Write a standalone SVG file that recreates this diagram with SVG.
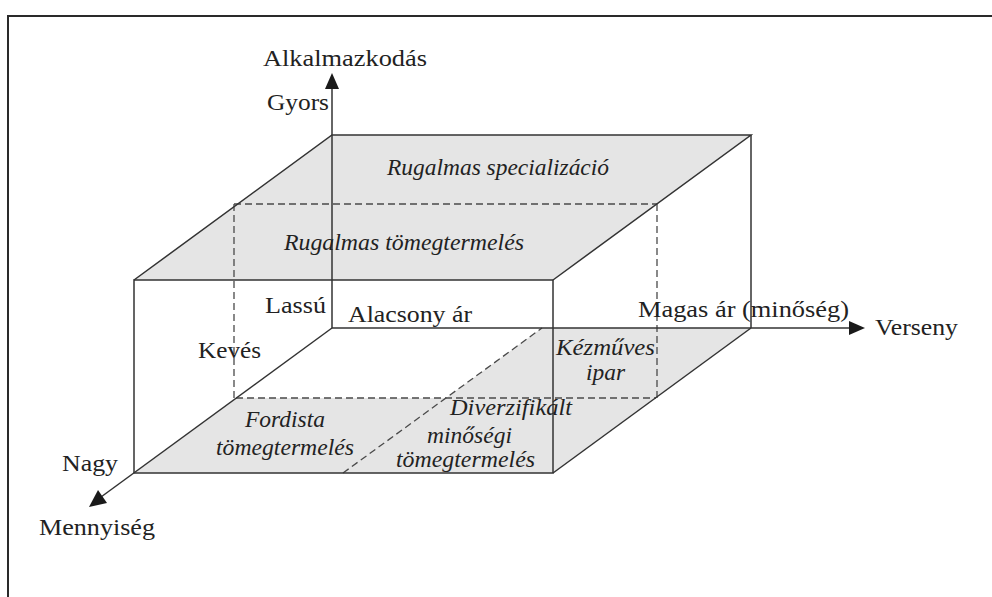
<svg xmlns="http://www.w3.org/2000/svg" width="992" height="597" viewBox="0 0 992 597">
  <style>
    .frame { fill: none; stroke: #2a2a2a; stroke-width: 2; }
    .face { fill: #e5e5e5; stroke: none; }
    .edge { fill: none; stroke: #333; stroke-width: 1.5; }
    .hidden { fill: none; stroke: #4a4a4a; stroke-width: 1.3; stroke-dasharray: 7 4; }
    .head { fill: #1a1a1a; stroke: none; }
    text { font-family: "Liberation Serif", "Times New Roman", serif; font-size: 24px; fill: #222; }
    .it { font-style: italic; }
  </style>

  <rect width="992" height="597" fill="#fff"/>

  <!-- outer frame (only left and top sides fall inside the canvas) -->
  <rect id="frame" class="frame" x="8" y="16" width="1000" height="600"/>

  <!-- shaded faces of the box -->
  <g id="faces">
    <polygon id="top-face" class="face" points="134,280 553,280 751,135 332,135"/>
    <polygon id="bottom-face" class="face" points="134,473 553,473 751,328 542,328 446,398 236,398"/>
  </g>

  <!-- hidden (dashed) subdivisions -->
  <g id="hidden-lines">
    <line class="hidden" x1="234" y1="204" x2="657" y2="204"/>
    <line class="hidden" x1="234" y1="204" x2="234" y2="398"/>
    <line class="hidden" x1="657" y1="204" x2="657" y2="398"/>
    <line class="hidden" x1="236" y1="398" x2="656" y2="398"/>
    <line class="hidden" x1="343" y1="473" x2="542" y2="328"/>
  </g>

  <!-- box edges -->
  <g id="edges">
    <rect class="edge" x="134" y="280" width="419" height="193"/>
    <polyline class="edge" points="134,280 332,135 751,135 553,280"/>
    <line class="edge" x1="751" y1="135" x2="751" y2="328"/>
    <line class="edge" x1="553" y1="473" x2="751" y2="328"/>
  </g>

  <!-- axes with arrowheads -->
  <g id="axes">
    <line class="edge" x1="332" y1="328" x2="332" y2="88"/>
    <polygon class="head" points="332,73 325,89 339,89"/>
    <line class="edge" x1="332" y1="328" x2="850" y2="328"/>
    <polygon class="head" points="865,328 849,321 849,335"/>
    <line class="edge" x1="332" y1="328" x2="101" y2="497"/>
    <polygon class="head" points="89,507 107,503 98,490"/>
  </g>

  <!-- axis and scale labels -->
  <g id="axis-labels">
    <text x="263" y="66" textLength="164" lengthAdjust="spacingAndGlyphs">Alkalmazkodás</text>
    <text x="267" y="110" textLength="62" lengthAdjust="spacingAndGlyphs">Gyors</text>
    <text x="265" y="313" textLength="61" lengthAdjust="spacingAndGlyphs">Lassú</text>
    <text x="348" y="322" textLength="124" lengthAdjust="spacingAndGlyphs">Alacsony ár</text>
    <text x="198" y="358" textLength="63" lengthAdjust="spacingAndGlyphs">Kevés</text>
    <text x="638" y="317" textLength="211" lengthAdjust="spacingAndGlyphs">Magas ár (minőség)</text>
    <text x="875" y="335" textLength="83" lengthAdjust="spacingAndGlyphs">Verseny</text>
    <text x="62" y="471" textLength="56" lengthAdjust="spacingAndGlyphs">Nagy</text>
    <text x="39" y="535" textLength="116" lengthAdjust="spacingAndGlyphs">Mennyiség</text>
  </g>

  <!-- production-model regions -->
  <g id="region-flexible-specialisation">
    <text class="it" x="387" y="175" textLength="222" lengthAdjust="spacingAndGlyphs">Rugalmas specializáció</text>
  </g>
  <g id="region-flexible-mass">
    <text class="it" x="284" y="250" textLength="240" lengthAdjust="spacingAndGlyphs">Rugalmas tömegtermelés</text>
  </g>
  <g id="region-craft">
    <text class="it" x="556" y="355" textLength="99" lengthAdjust="spacingAndGlyphs">Kézműves</text>
    <text class="it" x="586" y="380" textLength="39" lengthAdjust="spacingAndGlyphs">ipar</text>
  </g>
  <g id="region-diversified">
    <text class="it" x="450" y="415" textLength="122" lengthAdjust="spacingAndGlyphs">Diverzifikált</text>
    <text class="it" x="427" y="443" textLength="85" lengthAdjust="spacingAndGlyphs">minőségi</text>
    <text class="it" x="396" y="467" textLength="139" lengthAdjust="spacingAndGlyphs">tömegtermelés</text>
  </g>
  <g id="region-fordist">
    <text class="it" x="245" y="427" textLength="80" lengthAdjust="spacingAndGlyphs">Fordista</text>
    <text class="it" x="216" y="455" textLength="138" lengthAdjust="spacingAndGlyphs">tömegtermelés</text>
  </g>
</svg>
